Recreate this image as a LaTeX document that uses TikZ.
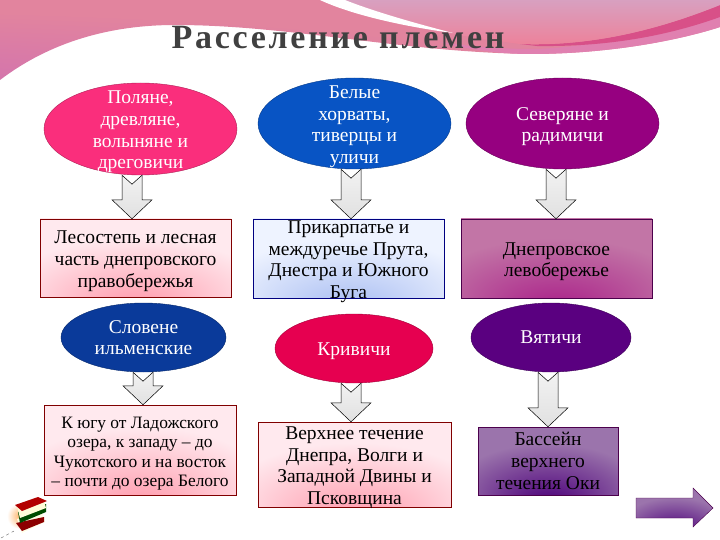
\documentclass[tikz,border=0pt]{standalone}
\usepackage{fontspec}
\setmainfont{Liberation Serif}
\newfontfamily\titlefont[LetterSpace=8]{Liberation Serif}
\usetikzlibrary{shapes.geometric,calc}
\definecolor{ttl}{HTML}{404040}
\definecolor{edgepink}{HTML}{FFE9EE}
\definecolor{midpink}{HTML}{FFA6B6}
\definecolor{edgeblue}{HTML}{EEF3FF}
\definecolor{midblue}{HTML}{B4C6F4}
\definecolor{edgeviolet}{HTML}{C275A6}
\definecolor{midviolet}{HTML}{AE2F8E}
\definecolor{edgeplum}{HTML}{9B74AC}
\definecolor{midplum}{HTML}{581282}
\definecolor{bandleft}{HTML}{C868B8}
\definecolor{bandright}{HTML}{E2849E}
\definecolor{bandlow}{HTML}{E080B0}
\definecolor{banddark}{HTML}{D85088}
\definecolor{bandtop}{HTML}{D8A0C0}
\definecolor{bandmid}{HTML}{EE8098}
\definecolor{polyanecol}{HTML}{FA2E7C}
\definecolor{horvatycol}{HTML}{0854C4}
\definecolor{severcol}{HTML}{960080}
\definecolor{slovenecol}{HTML}{0A3A9A}
\definecolor{krivicol}{HTML}{E60050}
\definecolor{vyaticol}{HTML}{5A0080}
\pgfdeclareradialshading{bandglow}{\pgfpoint{-50bp}{-50bp}}{color(0bp)=(bandleft); color(55bp)=(bandright); color(200bp)=(bandright)}
\pgfdeclareradialshading{pinkglow}{\pgfpoint{0bp}{-32bp}}{color(0bp)=(midpink); color(6bp)=(midpink); color(34bp)=(edgepink); color(100bp)=(edgepink)}
\pgfdeclareradialshading{blueglow}{\pgfpoint{0bp}{-32bp}}{color(0bp)=(midblue); color(6bp)=(midblue); color(34bp)=(edgeblue); color(100bp)=(edgeblue)}
\pgfdeclareradialshading{violetglow}{\pgfpoint{0bp}{-32bp}}{color(0bp)=(midviolet); color(6bp)=(midviolet); color(34bp)=(edgeviolet); color(100bp)=(edgeviolet)}
\pgfdeclareradialshading{plumglow}{\pgfpoint{0bp}{-32bp}}{color(0bp)=(midplum); color(6bp)=(midplum); color(34bp)=(edgeplum); color(100bp)=(edgeplum)}
\newcommand{\topgap}{\rule{0pt}{19pt}}
\tikzset{
  tribe/.style={ellipse,draw=#1!70!black,fill=#1,text=white,inner xsep=-40pt,inner ysep=-30pt,align=center,font=\fontsize{19.5}{21.7}\selectfont},
  area/.style={draw=#1,inner xsep=0pt,inner ysep=-12pt,align=center,font=\fontsize{19.5}{21.7}\selectfont},
  pinkarea/.style={area=red!50!black,shading=pinkglow},
  bigarrow/.style={draw=black,top color=black!5,bottom color=black!12,line width=.5pt}
}
% block arrow: shaft x, first node, second node
\newcommand{\bigarrow}[3]{%
  \draw [bigarrow] let \p1 = (#2.south), \p2 = (#3.north) in
    (#1-10,\y1) -- (#1,\y1-9) -- (#1+10,\y1) -- (#1+10,\y2+19) -- (#1+20,\y2+19)
    -- (#1,\y2) -- (#1-20,\y2+19) -- (#1-10,\y2+19) -- cycle;}
\begin{document}
\begin{tikzpicture}[x=1pt,y=-1pt]
  \useasboundingbox (0,0) rectangle (720,540);
  % top band
  \shade [shading=bandglow] (0,0) -- (0,80)
    .. controls (50,42) and (110,25) .. (175,25)
    .. controls (290,25) and (400,52) .. (530,54)
    .. controls (610,54) and (680,40) .. (720,27) -- (720,0) -- cycle;
  \fill [bandlow] (440,42) .. controls (480,48) and (510,49) .. (537,49)
    .. controls (610,46) and (680,24) .. (720,5) -- (720,27)
    .. controls (680,40) and (610,54) .. (530,54)
    .. controls (500,54) and (470,50) .. (440,42) -- cycle;
  \fill [banddark] (520,44) .. controls (600,47) and (670,25) .. (720,5) -- (720,17)
    .. controls (670,35) and (610,47) .. (537,46) -- cycle;
  \shade [top color=bandtop,bottom color=bandmid] (320,0)
    .. controls (380,22) and (430,32) .. (520,44)
    .. controls (600,47) and (670,25) .. (720,5) -- (720,0) -- cycle;
  \fill [white] (320,0) .. controls (350,14) and (400,26) .. (453,33)
    .. controls (410,22) and (370,10) .. (345,0) -- cycle;
  \node (title) [text=ttl,font=\titlefont\bfseries\fontsize{34}{38}\selectfont] at (338,38) {Расселение племен};
  % first row
  \node (polyane) [tribe=polyanecol,minimum width=193pt,minimum height=92pt] at (140.5,129) {\topgap Поляне,\\древляне,\\волыняне и\\дреговичи};
  \node (horvaty) [tribe=horvatycol,minimum width=193pt,minimum height=91pt] at (354.5,123.5) {\topgap Белые\\хорваты,\\тиверцы и\\уличи};
  \node (severyane) [tribe=severcol,minimum width=193pt,minimum height=91pt] at (562.5,123.5) {\topgap Северяне и\\радимичи};
  \node (lesostep) [pinkarea,minimum width=191pt,minimum height=78pt] at (135.5,258) {\topgap Лесостепь и лесная\\часть днепровского\\правобережья};
  \node (prikarp) [area=blue!50!black,shading=blueglow,minimum width=191pt,minimum height=79pt] at (348.5,258.5) {\topgap Прикарпатье и\\междуречье Прута,\\Днестра и Южного\\Буга};
  \node (dnepr) [area=violet!60!black,shading=violetglow,minimum width=191pt,minimum height=79pt] at (556.5,258.5) {\topgap Днепровское\\левобережье};
  % second row
  \node (slovene) [tribe=slovenecol,minimum width=165pt,minimum height=69pt] at (143.5,337.5) {Словене\\ильменские};
  \node (krivichi) [tribe=krivicol,minimum width=158pt,minimum height=69pt] at (354,348.5) {\topgap Кривичи};
  \node (vyatichi) [tribe=vyaticol,minimum width=160pt,minimum height=69pt] at (551,337.5) {Вятичи};
  \node (ladoga) [pinkarea,minimum width=192pt,minimum height=90pt,font=\fontsize{17.4}{19.4}\selectfont] at (140,450) {\topgap К югу от Ладожского\\озера, к западу – до\\Чукотского и на восток\\– почти до озера Белого};
  \node (volga) [pinkarea,minimum width=193pt,minimum height=85pt] at (354.5,464.5) {\topgap Верхнее течение\\Днепра, Волги и\\Западной Двины и\\Псковщина};
  \node (oka) [area=violet!60!black,shading=plumglow,minimum width=140pt,minimum height=68pt] at (548,461) {Бассейн\\верхнего\\течения Оки};
  % arrows
  \bigarrow{132}{polyane}{lesostep}
  \bigarrow{351}{horvaty}{prikarp}
  \bigarrow{556}{severyane}{dnepr}
  \bigarrow{143}{slovene}{ladoga}
  \bigarrow{351}{krivichi}{volga}
  \bigarrow{548}{vyatichi}{oka}
  % next button
  \draw [draw=violet!60!black,shading=plumglow] (636,498) -- (693,498) -- (693,488) -- (713,508) -- (693,527) -- (693,518) -- (636,518) -- cycle;
  % books
  \shade [inner color=orange!60,outer color=white] (20,516) circle (13);
  \draw [black!60,dashed] (1,538) -- (14,531);
  \fill [yellow!10] (17,519) -- (42,512) -- (45,522) -- (22,533) -- cycle;
  \fill [red!55!black] (16,523) -- (44,517) -- (44,522) -- (22,531) -- cycle;
  \fill [green!30!black] (18,512) -- (46,504) -- (46,512) -- (20,523) -- cycle;
  \fill [yellow!15] (17,506) -- (44,500) -- (46,508) -- (20,518) -- cycle;
  \fill [red!70!black] (15,505) -- (38,497) -- (47,501) -- (22,511) -- cycle;
\end{tikzpicture}
\end{document}
